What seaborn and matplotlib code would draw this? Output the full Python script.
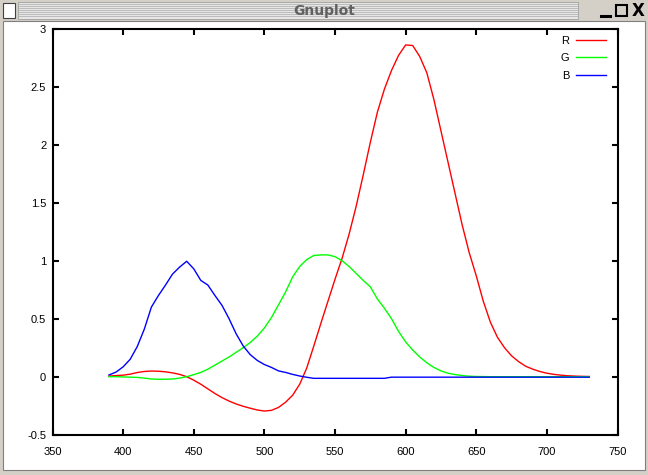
import numpy as np
import pandas as pd
import matplotlib
matplotlib.use('Agg')
import matplotlib.pyplot as plt
from matplotlib.patches import Rectangle
from matplotlib.lines import Line2D
from matplotlib.ticker import FuncFormatter
import seaborn as sns

# values (5 nm steps, 390-730 nm)
wavelength = list(range(390, 735, 5))
red = [0.005, 0.010, 0.013, 0.022, 0.036, 0.045, 0.049, 0.047, 0.042, 0.033,
       0.020, 0.000, -0.030, -0.065, -0.105, -0.145, -0.180, -0.210, -0.235, -0.255,
       -0.272, -0.287, -0.296, -0.290, -0.265, -0.220, -0.160, -0.065, 0.075, 0.265,
       0.460, 0.650, 0.840, 1.020, 1.230, 1.470, 1.740, 2.020, 2.280, 2.480,
       2.640, 2.770, 2.860, 2.855, 2.760, 2.620, 2.390, 2.120, 1.850, 1.580,
       1.310, 1.070, 0.870, 0.650, 0.470, 0.340, 0.250, 0.180, 0.130, 0.090,
       0.065, 0.045, 0.030, 0.020, 0.013, 0.008, 0.005, 0.003, 0.002]
green = [0.000, 0.000, -0.002, -0.004, -0.006, -0.012, -0.020, -0.022, -0.022, -0.020,
         -0.012, 0.000, 0.018, 0.037, 0.065, 0.100, 0.135, 0.170, 0.210, 0.250,
         0.295, 0.350, 0.420, 0.510, 0.620, 0.730, 0.860, 0.950, 1.010, 1.045,
         1.050, 1.050, 1.035, 1.000, 0.950, 0.890, 0.830, 0.775, 0.670, 0.590,
         0.500, 0.390, 0.300, 0.230, 0.170, 0.120, 0.080, 0.050, 0.030, 0.018,
         0.010, 0.004, 0.002, 0.001, 0.000, 0.000, 0.000, 0.000, 0.000, 0.000,
         0.000, 0.000, 0.000, 0.000, 0.000, 0.000, 0.000, 0.000, 0.000]
blue = [0.015, 0.040, 0.085, 0.150, 0.260, 0.410, 0.600, 0.700, 0.790, 0.885,
        0.945, 0.995, 0.930, 0.830, 0.790, 0.700, 0.615, 0.500, 0.370, 0.265,
        0.190, 0.140, 0.105, 0.080, 0.050, 0.037, 0.020, 0.006, -0.005, -0.014,
        -0.014, -0.014, -0.014, -0.014, -0.014, -0.014, -0.014, -0.014, -0.014, -0.014,
        -0.004, -0.004, -0.004, -0.004, -0.004, -0.004, -0.004, -0.004, -0.004, -0.004,
        -0.004, -0.004, -0.004, -0.004, -0.004, -0.004, -0.004, -0.004, -0.004, -0.004,
        -0.004, -0.004, -0.004, -0.004, -0.004, -0.004, -0.004, -0.004, -0.004]
series_names = ['R', 'G', 'B']
series_colors = ['#ff0000', '#00ff00', '#0000ff']
x_ticks = [350, 400, 450, 500, 550, 600, 650, 700, 750]
y_ticks = [-0.5, 0, 0.5, 1, 1.5, 2, 2.5, 3]
window_title = 'Gnuplot'

W, H = 648, 475

df = pd.DataFrame({
    'wavelength': wavelength * 3,
    'value': red + green + blue,
    'series': [n for n in series_names for _ in wavelength],
})

plt.rcParams['font.family'] = ['Liberation Sans', 'DejaVu Sans']
plt.rcParams['axes.unicode_minus'] = False

fig = plt.figure(figsize=(W / 100, H / 100), dpi=100, facecolor='#d4d0c8')


def px_rect(x0, y0, x1, y1, **kw):
    # rectangle in screen pixels (origin top left)
    r = Rectangle((x0 / W, 1 - y1 / H), (x1 - x0) / W, (y1 - y0) / H,
                  transform=fig.transFigure, **kw)
    fig.add_artist(r)


def px_line(x0, y0, x1, y1, **kw):
    fig.add_artist(Line2D([x0 / W, x1 / W], [1 - y0 / H, 1 - y1 / H],
                          transform=fig.transFigure, **kw))


# window frame
px_rect(3, 21, 645, 470, facecolor='white', edgecolor='#808080', lw=0.8, zorder=0)
# title bar with stripes
px_rect(18, 2, 578, 19, facecolor='#e6e6e6', edgecolor='#a0a0a0', lw=0.6, zorder=0)
for yy in range(4, 18, 2):
    px_line(19, yy, 577, yy, color='#b4b4b4', lw=0.6, zorder=0)
px_rect(3, 3, 15, 18, facecolor='white', edgecolor='#404040', lw=0.8, zorder=1)
fig.text(324 / W, 1 - 10.5 / H, window_title, ha='center', va='center',
         fontsize=10, fontweight='bold', color='#606060',
         family=['DejaVu Sans'])
px_line(601, 16, 610, 16, color='black', lw=2.2)
px_rect(616, 5, 627, 16, facecolor='none', edgecolor='black', lw=1.5)
fig.text(638 / W, 1 - 10.5 / H, 'X', ha='center', va='center', fontsize=12,
         fontweight='bold', color='black', family=['DejaVu Sans'])

# plot area
left, right, top, bottom = 52.5, 617.5, 28.7, 434.7
ax = fig.add_axes([left / W, 1 - bottom / H, (right - left) / W, (bottom - top) / H])
ax.set_facecolor('white')

sns.lineplot(data=df, x='wavelength', y='value', hue='series',
             hue_order=series_names, palette=dict(zip(series_names, series_colors)),
             estimator=None, errorbar=None, sort=False, linewidth=1.0, ax=ax)

ax.set_xlim(x_ticks[0], x_ticks[-1])
ax.set_ylim(y_ticks[0], y_ticks[-1])
ax.set_xticks(x_ticks)
ax.set_yticks(y_ticks)
ax.yaxis.set_major_formatter(FuncFormatter(lambda v, p: '%g' % v))
ax.xaxis.set_major_formatter(FuncFormatter(lambda v, p: '%g' % v))
ax.set_xlabel('')
ax.set_ylabel('')
for s in ax.spines.values():
    s.set_linewidth(1.5)
    s.set_color('black')
ax.tick_params(direction='in', length=4, width=1.5, top=True, right=True,
               labelsize=8, colors='black')
ax.tick_params(axis='x', pad=9)
ax.tick_params(axis='y', pad=4.5)

handles, labels = ax.get_legend_handles_labels()
ax.legend(handles, labels, loc='upper right', bbox_to_anchor=(0.9796, 0.983),
          frameon=False, markerfirst=False, fontsize=8, handlelength=2.7,
          handletextpad=0.6, labelspacing=0.68, borderpad=0, borderaxespad=0)

fig.savefig('out.png', dpi=100)
